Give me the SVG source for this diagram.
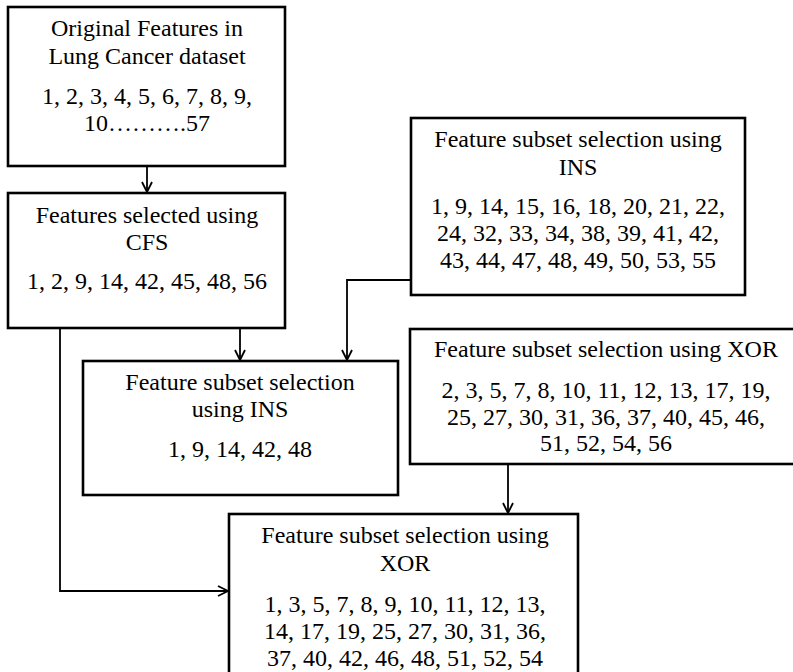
<svg xmlns="http://www.w3.org/2000/svg" width="793" height="672" viewBox="0 0 793 672">
<defs>
<style>
.box{fill:#fff;stroke:#000;stroke-width:2.6}
.t{font-family:'Liberation Serif','Times New Roman',serif;font-size:24px;fill:#000;text-anchor:middle}
.c{fill:none;stroke:#000;stroke-width:1.8}
</style>
<marker id="ah" viewBox="0 0 12 12" refX="11" refY="6" markerWidth="12" markerHeight="12" markerUnits="userSpaceOnUse" orient="auto">
<path d="M1,1 L11,6 L1,11" fill="none" stroke="#000" stroke-width="1.8"/>
</marker>
</defs>
<g id="connectors">
<path class="c" d="M147,166 V192" marker-end="url(#ah)"/>
<path class="c" d="M240,328 V360" marker-end="url(#ah)"/>
<path class="c" d="M411,280 H347 V360" marker-end="url(#ah)"/>
<path class="c" d="M508,464 V513" marker-end="url(#ah)"/>
<path class="c" d="M60,328 V591 H228" marker-end="url(#ah)"/>
</g>
<g id="original">
<rect class="box" x="8" y="7" width="277" height="159"/>
<text class="t" x="147" y="36">Original Features in</text>
<text class="t" x="147" y="64">Lung Cancer dataset</text>
<text class="t" x="147" y="104">1, 2, 3, 4, 5, 6, 7, 8, 9,</text>
<text class="t" x="147" y="131">10……….57</text>
</g>
<g id="cfs">
<rect class="box" x="8" y="193" width="277" height="135"/>
<text class="t" x="147" y="223">Features selected using</text>
<text class="t" x="147" y="250">CFS</text>
<text class="t" x="147" y="289">1, 2, 9, 14, 42, 45, 48, 56</text>
</g>
<g id="ins-result">
<rect class="box" x="83" y="361" width="315" height="134"/>
<text class="t" x="240" y="390">Feature subset selection</text>
<text class="t" x="240" y="417">using INS</text>
<text class="t" x="240" y="457">1, 9, 14, 42, 48</text>
</g>
<g id="ins">
<rect class="box" x="411" y="118" width="334" height="177"/>
<text class="t" x="578" y="147">Feature subset selection using</text>
<text class="t" x="578" y="175">INS</text>
<text class="t" x="578" y="214">1, 9, 14, 15, 16, 18, 20, 21, 22,</text>
<text class="t" x="578" y="241">24, 32, 33, 34, 38, 39, 41, 42,</text>
<text class="t" x="578" y="268">43, 44, 47, 48, 49, 50, 53, 55</text>
</g>
<g id="xor">
<rect class="box" x="410" y="329" width="390" height="135"/>
<text class="t" x="606" y="357">Feature subset selection using XOR</text>
<text class="t" x="606" y="398">2, 3, 5, 7, 8, 10, 11, 12, 13, 17, 19,</text>
<text class="t" x="606" y="425">25, 27, 30, 31, 36, 37, 40, 45, 46,</text>
<text class="t" x="606" y="451">51, 52, 54, 56</text>
</g>
<g id="xor-result">
<rect class="box" x="229" y="514" width="349" height="170"/>
<text class="t" x="405" y="543">Feature subset selection using</text>
<text class="t" x="405" y="571">XOR</text>
<text class="t" x="405" y="612">1, 3, 5, 7, 8, 9, 10, 11, 12, 13,</text>
<text class="t" x="405" y="639">14, 17, 19, 25, 27, 30, 31, 36,</text>
<text class="t" x="405" y="666">37, 40, 42, 46, 48, 51, 52, 54</text>
</g>
</svg>
